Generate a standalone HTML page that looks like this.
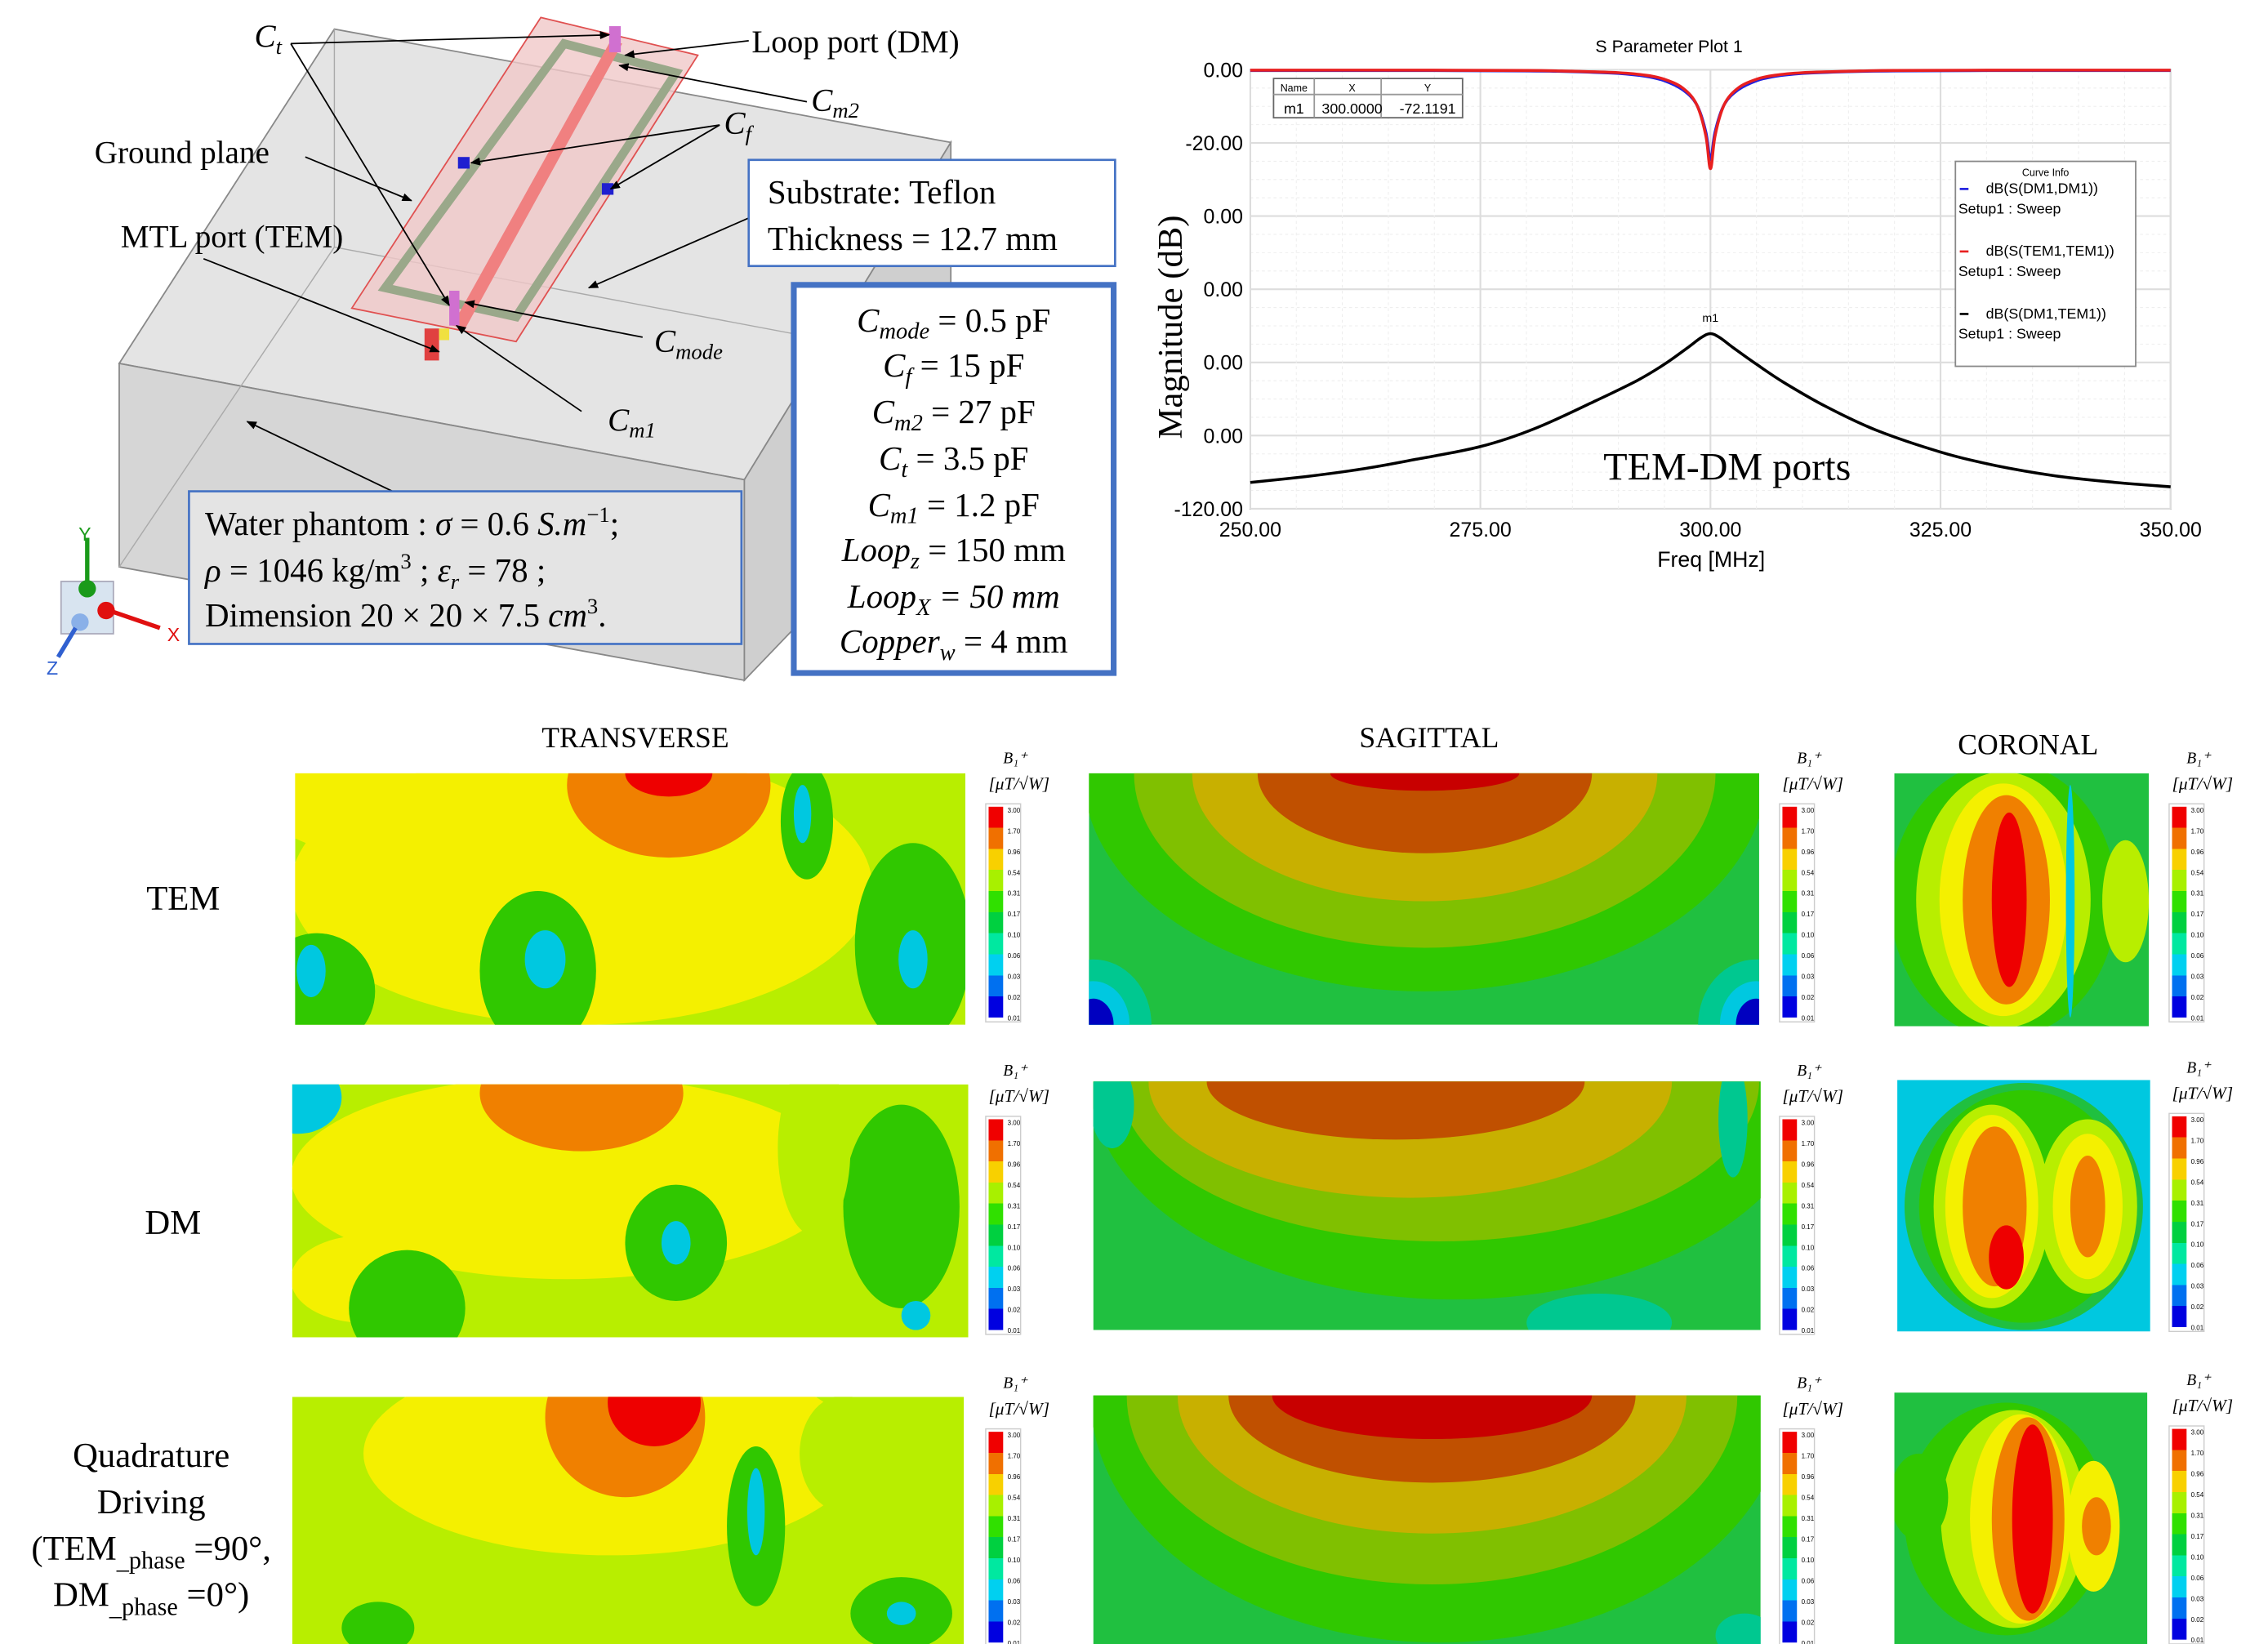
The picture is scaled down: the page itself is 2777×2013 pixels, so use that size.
<!DOCTYPE html>
<html><head><meta charset="utf-8"><style>
html,body{margin:0;padding:0;background:#fff;}
svg{display:block;}
.serif{font-family:"Liberation Serif",serif;}
.sans{font-family:"Liberation Sans",sans-serif;}
</style></head><body>
<svg id="root" width="2777" height="2013" viewBox="0 0 1560 1131" preserveAspectRatio="none" xmlns="http://www.w3.org/2000/svg">
<defs>
<marker id="ar" viewBox="0 0 10 10" refX="9" refY="5" markerWidth="7" markerHeight="7" orient="auto"><path d="M0,1 L10,5 L0,9 z" fill="#000"/></marker>
<linearGradient id="cb" x1="0" y1="0" x2="0" y2="1">
<stop offset="0" stop-color="#f00000"/><stop offset="0.1" stop-color="#f00000"/><stop offset="0.1" stop-color="#f07000"/><stop offset="0.2" stop-color="#f07000"/>
<stop offset="0.2" stop-color="#f8d000"/><stop offset="0.3" stop-color="#f8d000"/><stop offset="0.3" stop-color="#a8f000"/><stop offset="0.4" stop-color="#a8f000"/>
<stop offset="0.4" stop-color="#30e000"/><stop offset="0.5" stop-color="#30e000"/><stop offset="0.5" stop-color="#00d040"/><stop offset="0.6" stop-color="#00d040"/>
<stop offset="0.6" stop-color="#00e8a0"/><stop offset="0.7" stop-color="#00e8a0"/><stop offset="0.7" stop-color="#00d0f0"/><stop offset="0.8" stop-color="#00d0f0"/>
<stop offset="0.8" stop-color="#0070f0"/><stop offset="0.9" stop-color="#0070f0"/><stop offset="0.9" stop-color="#0000e0"/><stop offset="1" stop-color="#0000e0"/>
</linearGradient>
</defs>

<g>
<polygon points="82,250 230,20 654,98 512,330" fill="#e4e4e4" stroke="#888" stroke-width="1"/>
<polygon points="82,250 512,330 512,468 82,390" fill="#d6d6d6" stroke="#888" stroke-width="1"/>
<polygon points="512,330 654,98 654,320 512,468" fill="#cfcfcf" stroke="#888" stroke-width="1"/>
<polyline points="230,20 230,170 82,390" fill="none" stroke="#aaa" stroke-width="0.8"/>
<line x1="230" y1="170" x2="654" y2="250" stroke="#aaa" stroke-width="0.8"/>
<polygon points="372,12 480,38 355,235 242,212" fill="#f0c8c8" fill-opacity="0.8" stroke="#e05050" stroke-width="1"/>
<polygon points="388,30 465,50 355,218 265,198" fill="none" stroke="#9aa88a" stroke-width="6"/>
<polygon points="420,28 428,30 320,226 311,224" fill="#f08080"/>
<rect x="419" y="18" width="8" height="18" fill="#d070d0"/>
<rect x="309" y="200" width="7" height="24" fill="#d070d0"/>
<rect x="292" y="226" width="10" height="22" fill="#e04040"/>
<rect x="302" y="226" width="7" height="8" fill="#f0e040"/>
<rect x="315" y="108" width="8" height="8" fill="#2020d0"/>
<rect x="414" y="126" width="8" height="8" fill="#2020d0"/>
<g stroke="#000" stroke-width="1" fill="none" marker-end="url(#ar)">
<line x1="200" y1="30" x2="419" y2="24"/><line x1="200" y1="30" x2="309" y2="210"/>
<line x1="515" y1="28" x2="430" y2="38"/><line x1="555" y1="70" x2="426" y2="45"/>
<line x1="495" y1="86" x2="324" y2="112"/><line x1="495" y1="86" x2="420" y2="130"/>
<line x1="210" y1="108" x2="283" y2="138"/><line x1="515" y1="150" x2="405" y2="198"/>
<line x1="140" y1="178" x2="302" y2="242"/><line x1="442" y1="232" x2="320" y2="208"/>
<line x1="400" y1="283" x2="314" y2="224"/><line x1="270" y1="338" x2="170" y2="290"/>
</g>
<g class="serif" font-size="22" fill="#000">
<text x="175" y="32" font-style="italic">C<tspan font-size="15" dy="5">t</tspan></text>
<text x="517" y="36">Loop port (DM)</text>
<text x="558" y="76" font-style="italic">C<tspan font-size="15" dy="5">m2</tspan></text>
<text x="498" y="92" font-style="italic">C<tspan font-size="15" dy="5">f</tspan></text>
<text x="65" y="112">Ground plane</text>
<text x="83" y="170">MTL port (TEM)</text>
<text x="450" y="242" font-style="italic">C<tspan font-size="15" dy="5">mode</tspan></text>
<text x="418" y="296" font-style="italic">C<tspan font-size="15" dy="5">m1</tspan></text>
</g>
<rect x="515" y="110" width="252" height="73" fill="#fff" stroke="#4472c4" stroke-width="1.5"/>
<text class="serif" x="528" y="140" font-size="23">Substrate: Teflon</text>
<text class="serif" x="528" y="172" font-size="23">Thickness = 12.7 mm</text>
<rect x="546" y="196" width="220" height="267" fill="#fff" stroke="#4472c4" stroke-width="4"/>
<g class="serif" font-size="23" text-anchor="middle">
<text x="656" y="228"><tspan font-style="italic">C<tspan font-size="16" dy="5">mode</tspan></tspan><tspan dy="-5"> = 0.5 pF</tspan></text>
<text x="656" y="259"><tspan font-style="italic">C<tspan font-size="16" dy="5">f</tspan></tspan><tspan dy="-5"> = 15 pF</tspan></text>
<text x="656" y="291"><tspan font-style="italic">C<tspan font-size="16" dy="5">m2</tspan></tspan><tspan dy="-5"> = 27 pF</tspan></text>
<text x="656" y="323"><tspan font-style="italic">C<tspan font-size="16" dy="5">t</tspan></tspan><tspan dy="-5"> = 3.5 pF</tspan></text>
<text x="656" y="355"><tspan font-style="italic">C<tspan font-size="16" dy="5">m1</tspan></tspan><tspan dy="-5"> = 1.2 pF</tspan></text>
<text x="656" y="386"><tspan font-style="italic">Loop<tspan font-size="16" dy="5">z</tspan></tspan><tspan dy="-5"> = 150 mm</tspan></text>
<text x="656" y="418"><tspan font-style="italic">Loop<tspan font-size="16" dy="5">X</tspan></tspan><tspan dy="-5" font-style="italic"> = 50 mm</tspan></text>
<text x="656" y="449"><tspan font-style="italic">Copper<tspan font-size="16" dy="5">w</tspan></tspan><tspan dy="-5"> = 4 mm</tspan></text>
</g>
<rect x="130" y="338" width="380" height="105" fill="#e4e4e4" stroke="#4472c4" stroke-width="1.5"/>
<g class="serif" font-size="23">
<text x="141" y="368">Water phantom : <tspan font-style="italic">σ</tspan> = 0.6 <tspan font-style="italic">S.m</tspan><tspan font-size="15" dy="-9">−1</tspan><tspan dy="9">;</tspan></text>
<text x="141" y="400"><tspan font-style="italic">ρ</tspan> = 1046 kg/m<tspan font-size="15" dy="-9">3</tspan><tspan dy="9"> ; </tspan><tspan font-style="italic">ε<tspan font-size="15" dy="5">r</tspan></tspan><tspan dy="-5"> = 78 ;</tspan></text>
<text x="141" y="431">Dimension 20 × 20 × 7.5 <tspan font-style="italic">cm</tspan><tspan font-size="15" dy="-9">3</tspan><tspan dy="9">.</tspan></text>
</g>
<g>
<rect x="42" y="400" width="36" height="36" fill="#d8e4f0" stroke="#aab"/>
<line x1="60" y1="405" x2="60" y2="370" stroke="#1a9a1a" stroke-width="3"/><circle cx="60" cy="405" r="6" fill="#1a9a1a"/>
<line x1="75" y1="420" x2="110" y2="432" stroke="#e01010" stroke-width="3"/><circle cx="73" cy="420" r="6" fill="#e01010"/>
<circle cx="55" cy="428" r="6" fill="#8ab0e8"/><line x1="52" y1="432" x2="40" y2="452" stroke="#3060d0" stroke-width="3"/>
<text class="sans" x="54" y="372" font-size="13" fill="#1a9a1a">Y</text>
<text class="sans" x="115" y="441" font-size="13" fill="#e01010">X</text>
<text class="sans" x="32" y="464" font-size="13" fill="#3060d0">Z</text>
</g>
</g>

<g id="chart"></g>

<g class="serif" font-size="20" text-anchor="middle">
<text x="437" y="514">TRANSVERSE</text>
<text x="983" y="514">SAGITTAL</text>
<text x="1395" y="519">CORONAL</text>
<text x="126" y="626" font-size="24">TEM</text>
<text x="119" y="849" font-size="24">DM</text>
<g font-size="24">
<text x="104" y="1009">Quadrature</text>
<text x="104" y="1041">Driving</text>
<text x="104" y="1073">(TEM<tspan font-size="17" dy="6">_phase</tspan><tspan dy="-6"> =90°,</tspan></text>
<text x="104" y="1105">DM<tspan font-size="17" dy="6">_phase</tspan><tspan dy="-6"> =0°)</tspan></text>
</g>
</g>
<g id="maps"></g>
</svg>
<script>
// ===== chart data =====
const freqs = [250, 270, 280, 285, 290, 293, 295, 297, 298.5, 299.5, 300, 300.5, 301.5, 303, 305, 307, 310, 315, 320, 330, 350];
const s11DM = [-0.2, -0.2, -0.3, -0.5, -1.0, -1.8, -3.0, -5.5, -9.5, -17, -24.6, -17, -9.5, -5.5, -3.0, -1.8, -1.0, -0.5, -0.3, -0.2, -0.2];
const s11TEM = [-0.1, -0.1, -0.2, -0.4, -0.8, -1.5, -2.6, -5, -9.5, -18, -27, -18, -9.5, -5, -2.6, -1.5, -0.8, -0.4, -0.2, -0.1, -0.1];
const freqs21 = [250, 256, 262.5, 268, 275, 281, 287.5, 292, 295, 297.5, 299, 300, 301, 302.5, 305, 308, 312.5, 318, 325, 331, 337.5, 344, 350];
const s21 = [-112.8, -111.2, -109, -106.5, -103, -98, -90.5, -85, -80.5, -76, -73.2, -72.1, -73.2, -76, -80.5, -85.5, -92, -98.5, -104.5, -108.2, -111, -112.8, -114];
const yTicks = [0, -20, -40, -60, -80, -100, -120];
const yTickLabels = ["0.00", "-20.00", "0.00", "0.00", "0.00", "0.00", "-120.00"];
const xTicks = [250, 275, 300, 325, 350];
const xTickLabels = ["250.00", "275.00", "300.00", "325.00", "350.00"];
const cbLabels = ["3.00","1.70","0.96","0.54","0.31","0.17","0.10","0.06","0.03","0.02","0.01"];

const NS = "http://www.w3.org/2000/svg";
const X0 = 860, X1 = 1493, Y0 = 48, Y1 = 350;
function xs(f){ return X0 + (f - 250) / 100 * (X1 - X0); }
function ys(v){ return Y0 + (0 - v) / 120 * (Y1 - Y0); }
function mk(tag, attrs, parent){ const e = document.createElementNS(NS, tag); for (const k in attrs) e.setAttribute(k, attrs[k]); parent.appendChild(e); return e; }

const chart = document.getElementById('chart');
const bg = mk('rect', {x:X0, y:Y0, width:X1-X0, height:Y1-Y0, fill:'#fff', stroke:'#999', 'stroke-width':1}, chart);


const t = mk('text', {x:1148, y:36, 'font-size':12, 'text-anchor':'middle', 'font-family':'Liberation Sans, sans-serif'}, chart);
t.textContent = 'S Parameter Plot 1';


for (let v = 0; v >= -120; v -= 5) {
  const g = mk('line', {x1:X0, x2:X1, y1:ys(v), y2:ys(v), stroke: v % 20 === 0 ? '#ddd' : '#eee', 'stroke-width': v % 20 === 0 ? 1.2 : 0.6, 'stroke-dasharray': v % 20 === 0 ? '' : '2,2'}, chart);
  
  
}
for (let f = 250; f <= 350; f += 5) {
  const g = mk('line', {x1:xs(f), x2:xs(f), y1:Y0, y2:Y1, stroke: f % 25 === 0 ? '#ddd' : '#eee', 'stroke-width': f % 25 === 0 ? 1.2 : 0.6, 'stroke-dasharray': f % 25 === 0 ? '' : '2,2'}, chart);
  
  
}
yTicks.forEach((v, i) => {
  const l = mk('text', {x:X0-5, y:ys(v)+5, 'font-size':14, 'text-anchor':'end', 'font-family':'Liberation Sans, sans-serif'}, chart);
  l.textContent = yTickLabels[i];
  
  
});
xTicks.forEach((f, i) => {
  const l = mk('text', {x:xs(f), y:Y1+19, 'font-size':14, 'text-anchor':'middle', 'font-family':'Liberation Sans, sans-serif'}, chart);
  l.textContent = xTickLabels[i];
  
  
});
const xt = mk('text', {x:1177, y:390, 'font-size':15, 'text-anchor':'middle', 'font-family':'Liberation Sans, sans-serif'}, chart);
xt.textContent = 'Freq [MHz]';


const yt = mk('text', {x:0, y:0, 'font-size':24, 'text-anchor':'middle', 'font-family':'Liberation Serif, serif', transform:'translate(813,225) rotate(-90)'}, chart);
yt.textContent = 'Magnitude (dB)';


function smoothPath(fArr, vArr){
  const p = fArr.map((f, i) => [xs(f), ys(vArr[i])]);
  let d = 'M' + p[0][0].toFixed(1) + ',' + p[0][1].toFixed(1);
  for (let i = 0; i < p.length - 1; i++) {
    const p0 = p[Math.max(0, i-1)], p1 = p[i], p2 = p[i+1], p3 = p[Math.min(p.length-1, i+2)];
    const c1 = [p1[0] + (p2[0]-p0[0])/6, p1[1] + (p2[1]-p0[1])/6];
    const c2 = [p2[0] - (p3[0]-p1[0])/6, p2[1] - (p3[1]-p1[1])/6];
    d += 'C' + c1[0].toFixed(1) + ',' + c1[1].toFixed(1) + ' ' + c2[0].toFixed(1) + ',' + c2[1].toFixed(1) + ' ' + p2[0].toFixed(1) + ',' + p2[1].toFixed(1);
  }
  return d;
}
const l1 = mk('path', {d:smoothPath(freqs, s11DM), fill:'none', stroke:'#2020e0', 'stroke-width':2}, chart);


const l2 = mk('path', {d:smoothPath(freqs, s11TEM), fill:'none', stroke:'#e82020', 'stroke-width':2}, chart);


const l3 = mk('path', {d:smoothPath(freqs21, s21), fill:'none', stroke:'#000', 'stroke-width':2}, chart);


const mkr = mk('text', {x:xs(300), y:ys(-72.1)-8, 'font-size':8, 'text-anchor':'middle', 'font-family':'Liberation Sans, sans-serif'}, chart);
mkr.textContent = 'm1';


const ann = mk('text', {x:1188, y:330, 'font-size':27, 'text-anchor':'middle', 'font-family':'Liberation Serif, serif'}, chart);
ann.textContent = 'TEM-DM ports';


const mt = mk('g', {'font-family':'Liberation Sans, sans-serif', 'font-size':10}, chart);


mk('rect', {x:876, y:54, width:130, height:27, fill:'#fff', stroke:'#666'}, mt);
mk('line', {x1:876, x2:1006, y1:65, y2:65, stroke:'#999'}, mt);
[904, 950].forEach(x => mk('line', {x1:x, x2:x, y1:54, y2:81, stroke:'#999'}, mt));
[['Name',890,63,7],['X',930,63,7],['Y',982,63,7],['m1',890,78,10],['300.0000',930,78,10],['-72.1191',982,78,10]].forEach(a => { const e = mk('text', {x:a[1], y:a[2], 'font-size':a[3], 'text-anchor':'middle'}, mt); e.textContent = a[0]; });
const lg = mk('g', {'font-family':'Liberation Sans, sans-serif', 'font-size':10}, chart);


mk('rect', {x:1345, y:111, width:124, height:141, fill:'#fff', stroke:'#888'}, lg);
const lgt = mk('text', {x:1407, y:121, 'font-size':7, 'text-anchor':'middle'}, lg); lgt.textContent = 'Curve Info';
[['#2020e0','dB(S(DM1,DM1))',133],['#e82020','dB(S(TEM1,TEM1))',176],['#000','dB(S(DM1,TEM1))',219]].forEach(r => {
  const le = mk('g', {}, lg);
  
  
  mk('line', {x1:1348, x2:1354, y1:r[2]-3, y2:r[2]-3, stroke:r[0], 'stroke-width':1.5}, le);
  const a = mk('text', {x:1366, y:r[2]}, le); a.textContent = r[1];
  const b = mk('text', {x:1347, y:r[2]+14}, le); b.textContent = 'Setup1 : Sweep';
});

const maps = document.getElementById('maps');
const C = {r:'#ee0000', dr:'#c80000', o:'#f08000', do:'#c05000', y:'#f4f000', gold:'#c8b000', yg:'#b8ee00', lg:'#80c000', g:'#30c800', g2:'#20c040', t:'#00c890', c:'#00c8e0', b:'#0060e0', db:'#0000c0'};
const panels = [
 {name:'tem-transverse', x:203,y:532,w:461,h:173, base:C.yg, s:[[400,610,200,95,C.y],[270,550,90,40,C.y],[460,540,70,50,C.o],[460,532,30,16,C.r],[370,668,40,55,C.g],[375,660,14,20,C.c],[628,650,40,70,C.g],[628,660,10,20,C.c],[555,565,18,40,C.g],[552,560,6,20,C.c],[218,682,40,40,C.g],[214,668,10,18,C.c]]},
 {name:'tem-sagittal', x:749,y:532,w:461,h:173, base:C.g2, s:[[980,532,235,150,C.g],[980,532,200,120,C.lg],[980,532,160,88,C.gold],[980,532,115,55,C.do],[980,532,65,12,C.dr],[752,705,40,45,C.t],[752,705,25,30,C.c],[752,705,14,18,C.db],[1208,705,40,45,C.t],[1208,705,25,30,C.c],[1208,705,14,18,C.db]]},
 {name:'tem-coronal', x:1303,y:532,w:175,h:174, base:C.g2, s:[[1378,619,78,95,C.g],[1378,619,60,88,C.yg],[1378,619,44,80,C.y],[1380,619,30,72,C.o],[1382,619,12,60,C.r],[1462,620,16,42,C.yg],[1424,620,3,80,C.c]]},
 {name:'dm-transverse', x:201,y:746,w:465,h:174, base:C.yg, s:[[390,810,190,70,C.y],[250,880,50,30,C.y],[400,752,70,40,C.o],[205,755,30,25,C.c],[280,900,40,40,C.g],[465,855,35,40,C.g],[465,855,10,15,C.c],[620,830,40,70,C.g],[630,905,10,10,C.c],[560,790,25,60,C.yg]]},
 {name:'dm-sagittal', x:752,y:744,w:459,h:171, base:C.g2, s:[[1000,744,250,150,C.g],[990,744,220,110,C.lg],[970,744,180,80,C.gold],[960,744,130,40,C.do],[765,760,15,30,C.t],[1192,770,10,40,C.t],[1100,910,50,20,C.t]]},
 {name:'dm-coronal', x:1305,y:743,w:174,h:173, base:C.c, s:[[1392,830,82,85,C.g2],[1392,830,72,80,C.g],[1370,830,40,70,C.yg],[1436,830,34,60,C.yg],[1370,830,32,63,C.y],[1436,830,24,50,C.y],[1372,830,22,55,C.o],[1436,830,12,35,C.o],[1380,865,12,22,C.r]]},
 {name:'quad-transverse', x:201,y:961,w:462,h:173, base:C.yg, s:[[420,1000,170,70,C.y],[430,975,55,55,C.o],[450,965,32,30,C.r],[520,1050,20,55,C.g],[520,1040,6,30,C.c],[620,1110,35,25,C.g],[620,1110,10,8,C.c],[260,1120,25,18,C.g],[580,1000,30,40,C.yg]]},
 {name:'quad-sagittal', x:752,y:960,w:459,h:171, base:C.g2, s:[[990,960,240,170,C.g],[985,960,210,130,C.lg],[985,960,175,95,C.gold],[985,960,140,60,C.do],[985,960,110,30,C.dr],[1200,1125,20,15,C.t]]},
 {name:'quad-coronal', x:1303,y:958,w:174,h:173, base:C.g2, s:[[1380,1045,70,80,C.g],[1385,1045,50,75,C.yg],[1390,1045,35,72,C.y],[1395,1045,25,70,C.o],[1398,1045,14,65,C.r],[1440,1050,18,45,C.y],[1442,1050,10,20,C.o],[1320,1030,20,30,C.g]]}
];
panels.forEach((p, i) => {
  const g = mk('g', {}, maps);
  
  
  const cid = 'clip' + i;
  const cp = mk('clipPath', {id:cid}, g);
  mk('rect', {x:p.x, y:p.y, width:p.w, height:p.h}, cp);
  const inner = mk('g', {'clip-path':'url(#' + cid + ')'}, g);
  mk('rect', {x:p.x, y:p.y, width:p.w, height:p.h, fill:p.base}, inner);
  p.s.forEach(e => mk('ellipse', {cx:e[0], cy:e[1], rx:e[2], ry:e[3], fill:e[4]}, inner));
});
const cbs = [[680,555],[1226,555],[1494,555],[680,770],[1226,770],[1494,768],[680,985],[1226,985],[1494,983]];
cbs.forEach(c => {
  const g = mk('g', {}, maps);
  
  
  mk('rect', {x:c[0]-2, y:c[1]-2, width:24, height:150, fill:'#fff', stroke:'#ccc', 'stroke-width':0.8}, g);
  mk('rect', {x:c[0], y:c[1], width:10, height:145, fill:'url(#cb)'}, g);
  cbLabels.forEach((lab, k) => {
    const tt = mk('text', {x:c[0]+13, y:c[1]+4+k*14.3, 'font-size':4.5, 'font-family':'Liberation Sans, sans-serif'}, g);
    tt.textContent = lab;
  });
  const u1 = mk('text', {x:c[0]+10, y:c[1]-30, 'font-size':11, 'font-style':'italic', 'font-family':'Liberation Serif, serif'}, g);
  u1.textContent = 'B₁⁺';
  const u2 = mk('text', {x:c[0], y:c[1]-12, 'font-size':12, 'font-style':'italic', 'font-family':'Liberation Serif, serif'}, g);
  u2.textContent = '[μT/√W]';
});
</script>
</body></html>
